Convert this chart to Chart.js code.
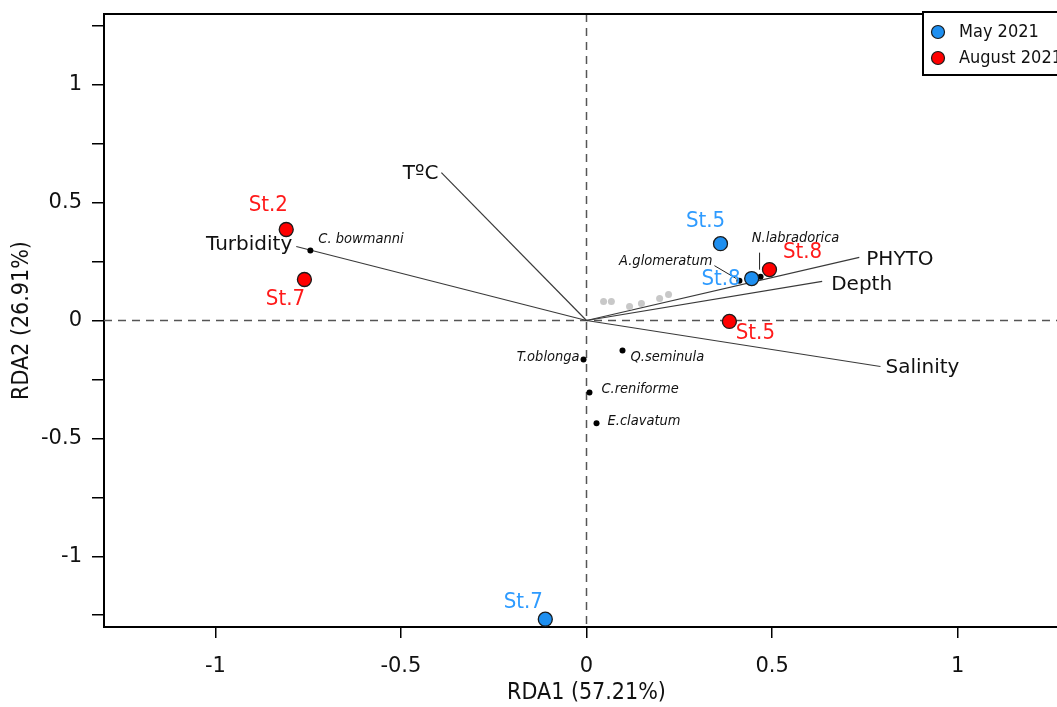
<!DOCTYPE html>
<html>
<head>
<meta charset="utf-8">
<script src="https://cdn.jsdelivr.net/npm/chart.js@4.4.1/dist/chart.umd.min.js"></script>
<style>
  html, body { margin: 0; padding: 0; background: #fff; overflow: hidden; }
  #wrap { width: 1080px; height: 707px; }
</style>
</head>
<body>
<div id="wrap"><canvas id="rda" width="1080" height="707"></canvas></div>
<script>
// axis ticks
const xTickValues = [-1, -0.5, 0, 0.5, 1];
const yTickValues = [-1.25, -1, -0.75, -0.5, -0.25, 0, 0.25, 0.5, 0.75, 1, 1.25];
const yLabelValues = [-1, -0.5, 0, 0.5, 1];

// stations (sites)
const mayNames = ['St.5', 'St.8', 'St.7'];
const mayX = [0.361, 0.445, -0.111];
const mayY = [0.326, 0.178, -1.267];

const augNames = ['St.2', 'St.7', 'St.8', 'St.5'];
const augX = [-0.809, -0.760, 0.493, 0.385];
const augY = [0.386, 0.174, 0.216, -0.004];

// species scores
const speciesNames = ['C. bowmanni', 'T.oblonga', 'Q.seminula', 'C.reniforme', 'E.clavatum', 'A.glomeratum', 'N.labradorica'];
const speciesX = [-0.744, -0.008, 0.097, 0.008, 0.027, 0.412, 0.469];
const speciesY = [0.297, -0.165, -0.127, -0.305, -0.436, 0.169, 0.186];

// unlabelled species (grey)
const minorX = [0.046, 0.067, 0.116, 0.148, 0.197, 0.221];
const minorY = [0.081, 0.081, 0.059, 0.072, 0.093, 0.110];

// environmental vectors
const envNames = ['TºC', 'Turbidity', 'PHYTO', 'Depth', 'Salinity'];
const envX = [-0.391, -0.782, 0.735, 0.635, 0.792];
const envY = [0.627, 0.314, 0.268, 0.166, -0.195];

// label placement (pixels relative to the point)
const mayLabelPos = [[-15, -22, 'center'], [-11, 1, 'right'], [-22, -17, 'center']];
const augLabelPos = [[-18, -24, 'center'], [-19, 20, 'center'], [33, -17, 'center'], [26, 12, 'center']];
const speciesLabelPos = [[8, -11, 'left'], [-4, -2, 'right'], [8, 7, 'left'], [12, -3, 'left'], [11, -2, 'left'], [-27, -19, 'right'], [35, -38, 'center']];
const envLabelPos = [[-3, 1, 'right'], [-4, -2, 'right'], [7, 2, 'left'], [9, 3, 'left'], [5, 1, 'left']];

const MAY_COLOR = '#1e8ff0';
const AUG_COLOR = '#ff0000';
const MAY_TEXT = '#2e9bff';
const AUG_TEXT = '#ff1a1a';
const SANS = '"DejaVu Sans", Verdana, sans-serif';
const COND = '"DejaVu Sans Condensed", "Liberation Sans Narrow", sans-serif';

function pts(xs, ys) {
    return xs.map((x, i) => ({ x: x, y: ys[i] }));
}

const vectorSets = envX.map((x, i) => ({
    data: [{ x: 0, y: 0 }, { x: x, y: envY[i] }],
    showLine: true,
    borderColor: '#3a3a3a',
    borderWidth: 1.2,
    pointRadius: 0,
    order: 4
}));

const plotExtras = {
    id: 'plotExtras',
    beforeDatasetsDraw(chart) {
        const { ctx, chartArea, scales } = chart;
        const x0 = scales.x.getPixelForValue(0);
        const y0 = scales.y.getPixelForValue(0);
        ctx.save();
        ctx.strokeStyle = '#555';
        ctx.lineWidth = 1.5;
        ctx.setLineDash([8, 6]);
        ctx.beginPath();
        ctx.moveTo(x0, chartArea.top);
        ctx.lineTo(x0, chartArea.bottom);
        ctx.moveTo(chartArea.left, y0);
        ctx.lineTo(chartArea.right, y0);
        ctx.stroke();
        ctx.restore();
    },
    afterDatasetsDraw(chart) {
        const { ctx, scales } = chart;
        const px = v => scales.x.getPixelForValue(v);
        const py = v => scales.y.getPixelForValue(v);
        ctx.save();
        ctx.textBaseline = 'middle';

        function put(names, xs, ys, pos, font, color) {
            ctx.font = font;
            ctx.fillStyle = color;
            names.forEach((n, i) => {
                const p = pos[i];
                ctx.textAlign = p[2];
                ctx.fillText(n, px(xs[i]) + p[0], py(ys[i]) + p[1]);
            });
        }

        // leader lines for the crowded species labels
        ctx.strokeStyle = '#222';
        ctx.lineWidth = 1;
        ctx.beginPath();
        const ag = 5, nl = 6;
        ctx.moveTo(px(speciesX[ag]) - 25, py(speciesY[ag]) - 15);
        ctx.lineTo(px(speciesX[ag]) - 3, py(speciesY[ag]) - 2);
        ctx.moveTo(px(speciesX[nl]) - 1, py(speciesY[nl]) - 24);
        ctx.lineTo(px(speciesX[nl]) - 1, py(speciesY[nl]) - 7);
        ctx.stroke();

        put(envNames, envX, envY, envLabelPos, '20px ' + SANS, '#111');
        put(speciesNames, speciesX, speciesY, speciesLabelPos, 'italic 14.5px ' + COND, '#111');
        put(mayNames, mayX, mayY, mayLabelPos, '22px ' + COND, MAY_TEXT);
        put(augNames, augX, augY, augLabelPos, '22px ' + COND, AUG_TEXT);
        ctx.restore();
    },
    afterDraw(chart) {
        const { ctx, chartArea } = chart;
        ctx.save();
        // top frame line
        ctx.strokeStyle = '#000';
        ctx.lineWidth = 2;
        ctx.beginPath();
        ctx.moveTo(chartArea.left, chartArea.top);
        ctx.lineTo(chartArea.right, chartArea.top);
        ctx.lineTo(chartArea.right, chartArea.bottom);
        ctx.stroke();

        // legend box in the top-right corner
        const bx = chartArea.right - 146, by = chartArea.top - 2;
        ctx.fillStyle = '#fff';
        ctx.fillRect(bx, by, 160, 63);
        ctx.strokeRect(bx, by, 160, 63);
        const items = [['May 2021', MAY_COLOR], ['August 2021', AUG_COLOR]];
        ctx.font = '18px ' + COND;
        ctx.textBaseline = 'middle';
        ctx.textAlign = 'left';
        items.forEach((it, i) => {
            const cy = by + 20 + i * 26;
            ctx.beginPath();
            ctx.arc(bx + 15, cy, 6.5, 0, Math.PI * 2);
            ctx.fillStyle = it[1];
            ctx.fill();
            ctx.lineWidth = 1.2;
            ctx.strokeStyle = '#1a1a1a';
            ctx.stroke();
            ctx.fillStyle = '#111';
            ctx.fillText(it[0], bx + 36, cy);
        });
        ctx.restore();
    }
};

new Chart(document.getElementById('rda'), {
    type: 'scatter',
    data: {
        datasets: [
            {
                label: 'May 2021',
                data: pts(mayX, mayY),
                backgroundColor: MAY_COLOR,
                borderColor: '#1a1a1a',
                borderWidth: 1.3,
                pointRadius: 7,
                order: 0
            },
            {
                label: 'August 2021',
                data: pts(augX, augY),
                backgroundColor: AUG_COLOR,
                borderColor: '#1a1a1a',
                borderWidth: 1.3,
                pointRadius: 7,
                order: 1
            },
            {
                label: 'species',
                data: pts(speciesX, speciesY),
                backgroundColor: '#000',
                borderWidth: 0,
                pointRadius: 3,
                order: 2
            },
            {
                label: 'other species',
                data: pts(minorX, minorY),
                backgroundColor: '#c8c8c8',
                borderWidth: 0,
                pointRadius: 3.5,
                order: 3
            },
            ...vectorSets
        ]
    },
    options: {
        responsive: false,
        animation: false,
        events: [],
        layout: { padding: { left: 0, top: 14, right: 11, bottom: 0 } },
        plugins: { legend: { display: false }, tooltip: { enabled: false } },
        scales: {
            x: {
                type: 'linear',
                min: -1.3,
                max: 1.3,
                afterFit: s => { s.height = 80; s.paddingLeft = 0; s.paddingRight = 0; },
                afterBuildTicks: s => { s.ticks = xTickValues.map(v => ({ value: v })); },
                grid: { drawOnChartArea: false, drawTicks: true, tickLength: 11, color: '#000', lineWidth: 1.5 },
                border: { display: true, color: '#000', width: 2 },
                ticks: { color: '#111', padding: 16, font: { family: SANS, size: 21 }, callback: v => String(v) },
                title: { display: true, text: 'RDA1 (57.21%)', color: '#111', font: { family: COND, size: 23 }, padding: { top: 0, bottom: 0 } }
            },
            y: {
                type: 'linear',
                min: -1.3,
                max: 1.3,
                afterFit: s => { s.width = 104; s.paddingTop = 0; s.paddingBottom = 0; },
                afterBuildTicks: s => { s.ticks = yTickValues.map(v => ({ value: v })); },
                grid: { drawOnChartArea: false, drawTicks: true, tickLength: 12, color: '#000', lineWidth: 1.5 },
                border: { display: true, color: '#000', width: 2 },
                ticks: {
                    color: '#111', padding: 10, font: { family: SANS, size: 21 },
                    callback: v => yLabelValues.includes(v) ? String(v) : ''
                },
                title: { display: true, text: 'RDA2 (26.91%)', color: '#111', font: { family: COND, size: 23 }, padding: { top: 8, bottom: 0 } }
            }
        }
    },
    plugins: [plotExtras]
});
</script>
</body>
</html>
